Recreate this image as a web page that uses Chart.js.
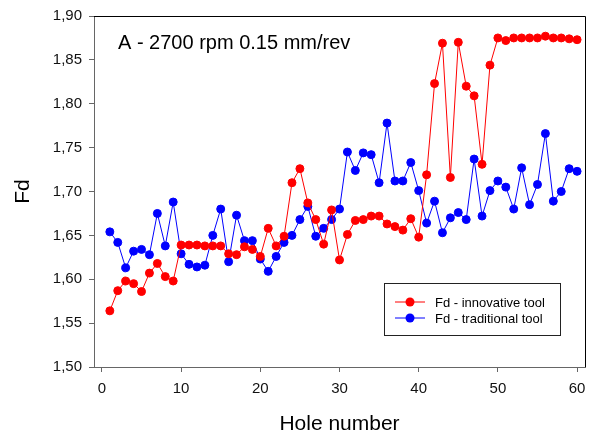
<!DOCTYPE html>
<html>
<head>
<meta charset="utf-8">
<script src="https://cdn.jsdelivr.net/npm/chart.js@4.4.1/dist/chart.umd.min.js"></script>
<style>
  html, body { margin: 0; padding: 0; background: #fff; }
  canvas { display: block; }
</style>
</head>
<body>
<canvas id="fd-graph" width="594" height="439"></canvas>
<script>
"use strict";

const holeNumbers = Array.from({ length: 60 }, (_, i) => i + 1);

const fdInnovative = [
  1.564, 1.587, 1.598, 1.595, 1.586, 1.607, 1.618, 1.603, 1.598, 1.639,
  1.639, 1.639, 1.638, 1.638, 1.638, 1.629, 1.628, 1.637, 1.634, 1.626,
  1.658, 1.638, 1.649, 1.710, 1.726, 1.687, 1.668, 1.640, 1.679, 1.622,
  1.651, 1.667, 1.668, 1.672, 1.672, 1.663, 1.660, 1.656, 1.669, 1.648,
  1.719, 1.823, 1.869, 1.716, 1.870, 1.820, 1.809, 1.731, 1.844, 1.875,
  1.872, 1.875, 1.875, 1.875, 1.875, 1.877, 1.875, 1.875, 1.874, 1.873
];

const fdTraditional = [
  1.654, 1.642, 1.613, 1.632, 1.634, 1.628, 1.675, 1.638, 1.688, 1.629,
  1.617, 1.614, 1.616, 1.650, 1.680, 1.620, 1.673, 1.644, 1.644, 1.623,
  1.609, 1.626, 1.642, 1.650, 1.668, 1.683, 1.649, 1.658, 1.668, 1.680,
  1.745, 1.724, 1.744, 1.742, 1.710, 1.778, 1.712, 1.712, 1.733, 1.701,
  1.664, 1.689, 1.653, 1.670, 1.676, 1.668, 1.737, 1.672, 1.701, 1.712,
  1.705, 1.680, 1.727, 1.685, 1.708, 1.766, 1.689, 1.700, 1.726, 1.723
];

const xTicks = [0, 10, 20, 30, 40, 50, 60];
const yTicks = [1.50, 1.55, 1.60, 1.65, 1.70, 1.75, 1.80, 1.85, 1.90];
const caption = "A - 2700 rpm 0.15 mm/rev";

const FONT = "'Liberation Sans', Arial, sans-serif";

// top and right edge of the plot frame
const framePlugin = {
  id: "frame",
  afterDraw(chart) {
    const { ctx, chartArea: a } = chart;
    ctx.save();
    ctx.strokeStyle = "#000";
    ctx.lineWidth = 1;
    ctx.beginPath();
    ctx.moveTo(a.left, a.top + 0.5);
    ctx.lineTo(a.right + 0.5, a.top + 0.5);
    ctx.lineTo(a.right + 0.5, a.bottom);
    ctx.stroke();

    ctx.fillStyle = "#000";
    ctx.font = "20px " + FONT;
    ctx.textBaseline = "middle";
    ctx.textAlign = "left";
    ctx.fillText(caption, 118, 43);
    ctx.restore();
  }
};

// boxed legend inside the plot, lower right
const legendPlugin = {
  id: "boxLegend",
  afterDraw(chart) {
    const { ctx } = chart;
    const x = 384, y = 283, w = 176, h = 52;
    ctx.save();
    ctx.fillStyle = "#fff";
    ctx.fillRect(x, y, w, h);
    ctx.strokeStyle = "#222";
    ctx.lineWidth = 1;
    ctx.strokeRect(x + 0.5, y + 0.5, w, h);
    ctx.font = "13px " + FONT;
    ctx.textBaseline = "middle";
    chart.data.datasets.forEach((ds, i) => {
      const ly = y + 19 + i * 16;
      ctx.strokeStyle = ds.borderColor;
      ctx.beginPath();
      ctx.moveTo(x + 11, ly);
      ctx.lineTo(x + 41, ly);
      ctx.stroke();
      ctx.fillStyle = ds.borderColor;
      ctx.beginPath();
      ctx.arc(x + 26, ly, 4.5, 0, Math.PI * 2);
      ctx.fill();
      ctx.fillStyle = "#000";
      ctx.fillText(ds.label, x + 51, ly + 1);
    });
    ctx.restore();
  }
};

new Chart(document.getElementById("fd-graph").getContext("2d"), {
  type: "line",
  data: {
    datasets: [
      {
        label: "Fd - innovative tool",
        data: holeNumbers.map((h, i) => ({ x: h, y: fdInnovative[i] })),
        borderColor: "#ff0000", backgroundColor: "#ff0000",
        borderWidth: 1, pointRadius: 4, pointBorderWidth: 1, tension: 0
      },
      {
        label: "Fd - traditional tool",
        data: holeNumbers.map((h, i) => ({ x: h, y: fdTraditional[i] })),
        borderColor: "#0000ff", backgroundColor: "#0000ff",
        borderWidth: 1, pointRadius: 4, pointBorderWidth: 1, tension: 0
      }
    ]
  },
  options: {
    responsive: false,
    animation: false,
    layout: { padding: { top: 15, right: 9, left: 0, bottom: 0 } },
    plugins: { legend: { display: false }, tooltip: { enabled: false } },
    scales: {
      x: {
        type: "linear", min: -1, max: 61,
        afterBuildTicks: s => { s.ticks = xTicks.map(v => ({ value: v })); },
        afterFit: s => { s.height = 72; },
        border: { color: "#666", width: 1 },
        grid: { drawOnChartArea: false, tickLength: 5, color: "#666" },
        ticks: { color: "#111", padding: 8, font: { family: FONT, size: 15 } },
        title: { display: true, text: "Hole number", color: "#000", font: { family: FONT, size: 21 }, padding: { top: 0, bottom: 2 } }
      },
      y: {
        min: 1.5, max: 1.9,
        afterBuildTicks: s => { s.ticks = yTicks.map(v => ({ value: v })); },
        afterFit: s => { s.width = 94; },
        border: { color: "#666", width: 1 },
        grid: { drawOnChartArea: false, tickLength: 5, color: "#666" },
        ticks: { color: "#111", padding: 7, font: { family: FONT, size: 15 },
                 callback: v => v.toFixed(2).replace(".", ",") },
        title: { display: true, text: "Fd", color: "#000", font: { family: FONT, size: 21 }, padding: { top: 11, bottom: 0 } }
      }
    }
  },
  plugins: [framePlugin, legendPlugin]
});
</script>
</body>
</html>
